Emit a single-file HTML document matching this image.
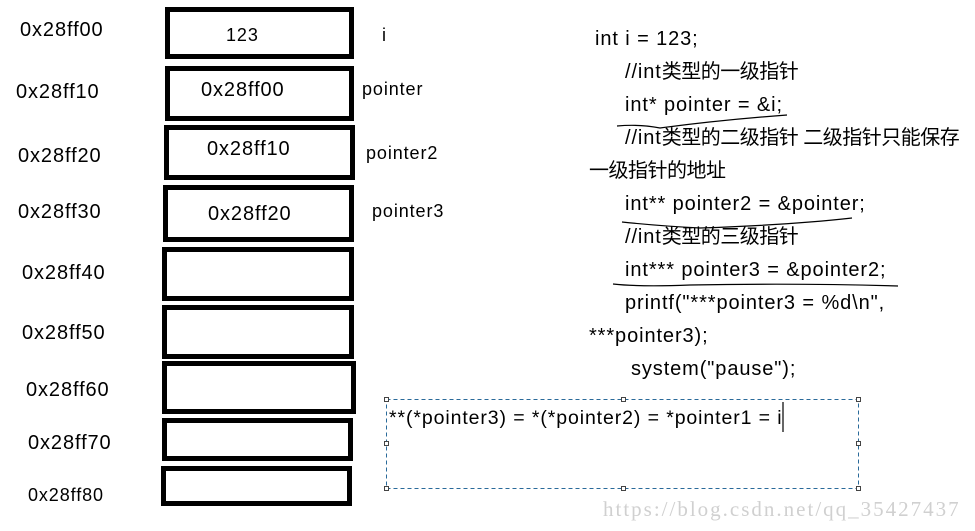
<!DOCTYPE html>
<html><head><meta charset="utf-8"><style>
body{margin:0;width:975px;height:531px;background:#fff;position:relative;overflow:hidden;font-family:"Liberation Sans","Noto Sans CJK SC",sans-serif;color:#000}
.t,.c{position:absolute;font-size:20px;letter-spacing:0.9px;white-space:nowrap;line-height:1}
.z{letter-spacing:-0.5px}
.b{position:absolute;border:5px solid #000;box-sizing:border-box}
.h{position:absolute;width:5px;height:5px;border:1px solid #444;background:#fff;box-sizing:border-box}
</style></head><body>
<div class="t" style="left:20px;top:20px">0x28ff00</div>
<div class="t" style="left:16px;top:82px">0x28ff10</div>
<div class="t" style="left:18px;top:146px">0x28ff20</div>
<div class="t" style="left:18px;top:202px">0x28ff30</div>
<div class="t" style="left:22px;top:263px">0x28ff40</div>
<div class="t" style="left:22px;top:323px">0x28ff50</div>
<div class="t" style="left:26px;top:380px">0x28ff60</div>
<div class="t" style="left:28px;top:433px">0x28ff70</div>
<div class="t" style="left:28px;top:486px;font-size:18px">0x28ff80</div>

<div class="b" style="left:165px;top:7px;width:189px;height:52px"></div>
<div class="b" style="left:165px;top:66px;width:189px;height:55px"></div>
<div class="b" style="left:164px;top:125px;width:191px;height:55px"></div>
<div class="b" style="left:163px;top:185px;width:191px;height:57px"></div>
<div class="b" style="left:162px;top:247px;width:192px;height:54px"></div>
<div class="b" style="left:162px;top:305px;width:192px;height:54px"></div>
<div class="b" style="left:162px;top:361px;width:194px;height:53px"></div>
<div class="b" style="left:162px;top:418px;width:191px;height:43px"></div>
<div class="b" style="left:161px;top:466px;width:191px;height:40px"></div>

<div class="t" style="left:226px;top:26px;font-size:18px">123</div>
<div class="t" style="left:201px;top:80px">0x28ff00</div>
<div class="t" style="left:207px;top:139px">0x28ff10</div>
<div class="t" style="left:208px;top:204px">0x28ff20</div>

<div class="t" style="left:382px;top:26px;font-size:18px">i</div>
<div class="t" style="left:362px;top:80px;font-size:18px">pointer</div>
<div class="t" style="left:366px;top:144px;font-size:18px">pointer2</div>
<div class="t" style="left:372px;top:202px;font-size:18px">pointer3</div>

<div class="c" style="left:595px;top:29px">int i = 123;</div>
<div class="c" style="left:625px;top:62px">//int<span class="z">类型的一级指针</span></div>
<div class="c" style="left:625px;top:95px">int* pointer = &amp;i;</div>
<div class="c" style="left:625px;top:128px">//int<span class="z">类型的二级指针 二级指针只能保存</span></div>
<div class="c" style="left:589px;top:161px"><span class="z">一级指针的地址</span></div>
<div class="c" style="left:625px;top:194px">int** pointer2 = &amp;pointer;</div>
<div class="c" style="left:625px;top:227px">//int<span class="z">类型的三级指针</span></div>
<div class="c" style="left:625px;top:260px">int*** pointer3 = &amp;pointer2;</div>
<div class="c" style="left:625px;top:293px">printf("***pointer3 = %d\n",</div>
<div class="c" style="left:589px;top:326px">***pointer3);</div>
<div class="c" style="left:631px;top:359px">system("pause");</div>

<svg style="position:absolute;left:0;top:0" width="975" height="531">
<path d="M617 126 Q640 124 660 128 Q720 120 787 115" fill="none" stroke="#000" stroke-width="1.2"/>
<path d="M622 222 Q660 226 700 228 Q790 225 852 218" fill="none" stroke="#000" stroke-width="1.2"/>
<path d="M613 284 Q640 287 690 285 Q800 283 898 286" fill="none" stroke="#000" stroke-width="1.2"/>
<rect x="386.5" y="399.5" width="472" height="89" fill="none" stroke="#2a6a9a" stroke-dasharray="4,3"/>
<line x1="783" y1="402" x2="783" y2="432" stroke="#000" stroke-width="1.2"/>
</svg>
<div class="h" style="left:384px;top:397px"></div><div class="h" style="left:621px;top:397px"></div><div class="h" style="left:856px;top:397px"></div>
<div class="h" style="left:384px;top:441px"></div><div class="h" style="left:856px;top:441px"></div>
<div class="h" style="left:384px;top:486px"></div><div class="h" style="left:621px;top:486px"></div><div class="h" style="left:856px;top:486px"></div>
<div class="c" style="left:389px;top:409px;font-size:19.5px">**(*pointer3) = *(*pointer2) = *pointer1 = i</div>
<div class="c" style="left:603px;top:499px;font-family:'Liberation Serif',serif;font-size:21px;letter-spacing:2px;color:#d0d0d0">https://blog.csdn.net/qq_35427437</div>
</body></html>
